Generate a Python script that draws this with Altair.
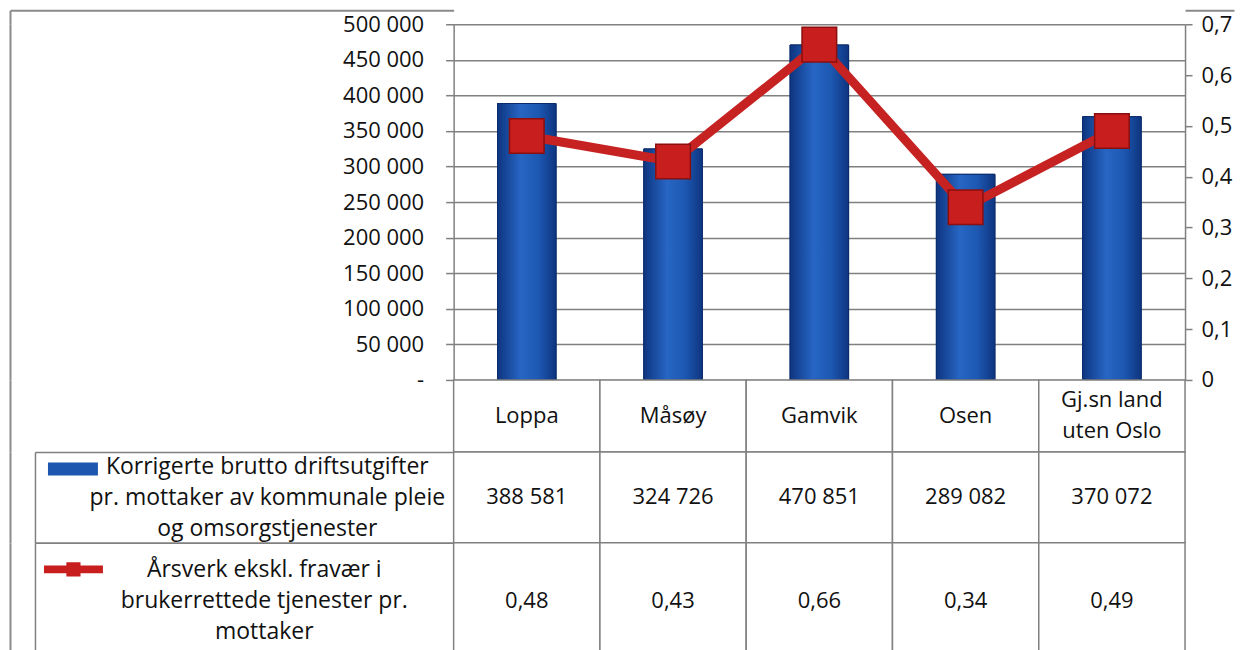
import altair as alt
import pandas as pd

# ---- data -------------------------------------------------------------
categories = ["Loppa", "Måsøy", "Gamvik", "Osen", "Gj.sn land\nuten Oslo"]
driftsutgifter = [388581, 324726, 470851, 289082, 370072]
arsverk = [0.48, 0.43, 0.66, 0.34, 0.49]

series_bar_lines = ["Korrigerte brutto driftsutgifter",
                    "pr. mottaker av kommunale pleie",
                    "og omsorgstjenester"]
series_line_lines = ["Årsverk ekskl. fravær i",
                     "brukerrettede tjenester pr.",
                     "mottaker"]
left_ticks = [0, 50000, 100000, 150000, 200000, 250000,
              300000, 350000, 400000, 450000, 500000]
right_ticks = [0, 0.1, 0.2, 0.3, 0.4, 0.5, 0.6, 0.7]

series_bar = " ".join(series_bar_lines)
series_line = " ".join(series_line_lines)

df = pd.DataFrame({"kommune": categories, "utgift": driftsutgifter, "arsverk": arsverk})
df["s_bar"] = series_bar
df["s_line"] = series_line

# ---- style --------------------------------------------------------------
FONT = "Open Sans"
FS = 22
FS_LEG = 23
LH = 31
TXT = "#111111"
GRID = "#808080"
FRAME = "#8a8a8a"
W = 732
LEFT_CELL = 419      # width of the legend column of the data table
FRAME_OFF = 444      # distance from plot area to the outer chart frame
RIGHT_FRAME = 49

unit = alt.Scale(domain=[0, 1], nice=False)


def frame_axis(orient="left", offset=FRAME_OFF):
    return alt.Axis(orient=orient, offset=offset, domain=True, domainColor=FRAME,
                    domainWidth=2, ticks=False, labels=False, grid=False, title=None)


def frame_layer(x_enc):
    return alt.Chart(df).mark_point(opacity=0, size=1).encode(
        x=x_enc, y=alt.YDatum(1, scale=unit, axis=frame_axis()))


# ---- top chart: bars + line ------------------------------------------
x_top = alt.X("kommune:N", sort=categories,
              scale=alt.Scale(domain=categories, paddingInner=0.6, paddingOuter=0.3),
              axis=None)
y_left = alt.Y("utgift:Q",
               scale=alt.Scale(domain=[0, 500000], nice=False),
               axis=alt.Axis(orient="left", values=left_ticks, title=None,
                             labelExpr="datum.value == 0 ? '-' : format(datum.value / 1000, 'd') + ' 000'",
                             grid=True, gridColor=GRID, gridWidth=1.5,
                             domainColor=GRID, domainWidth=1.5,
                             tickColor=GRID, tickWidth=1.5, tickSize=8,
                             labelPadding=22, labelFont=FONT, labelFontSize=FS,
                             labelColor=TXT))
y_right = alt.Y("arsverk:Q",
                scale=alt.Scale(domain=[0, 0.7], nice=False),
                axis=alt.Axis(orient="right", values=right_ticks, title=None,
                              labelExpr="replace(format(datum.value, '.1~f'), '.', ',')",
                              grid=False, domainColor=GRID, domainWidth=1.5,
                              tickColor=GRID, tickWidth=1.5, tickSize=7,
                              labelPadding=9, labelFont=FONT, labelFontSize=FS,
                              labelColor=TXT))

grad = alt.Gradient(gradient="linear", x1=0, x2=1, y1=0, y2=0,
                    stops=[alt.GradientStop(color="#0e3580", offset=0),
                           alt.GradientStop(color="#2766c4", offset=0.4),
                           alt.GradientStop(color="#1d58b2", offset=0.7),
                           alt.GradientStop(color="#0e3580", offset=1)])

bars_base = alt.Chart(df).mark_bar(stroke="#0b2c6c", strokeWidth=1).encode(
    x=x_top, y=y_left,
    fill=alt.Fill("s_bar:N", scale=alt.Scale(range=["#1d56ae"]),
                  legend=alt.Legend(orient="none", legendX=-406, legendY=420,
                                    title=None, labelExpr="''", padding=0,
                                    symbolType="M-1,-0.26H1V0.26H-1Z",
                                    symbolSize=2500, symbolStrokeWidth=0)))
bars_grad = alt.Chart(df).mark_bar(fill=grad, stroke="#0b2c6c", strokeWidth=1).encode(
    x=x_top, y=y_left)

line = alt.Chart(df).mark_line(color="#c62222", strokeWidth=9).encode(x=x_top, y=y_right)
squares = alt.Chart(df).mark_square(size=1200, stroke="#8a0f0f", strokeWidth=1.5,
                                    opacity=1).encode(
    x=x_top, y=y_right,
    fill=alt.Fill("s_line:N", scale=alt.Scale(range=["#c81e1e"]),
                  legend=alt.Legend(orient="none", legendX=-410, legendY=516,
                                    title=None, labelExpr="''", padding=0,
                                    symbolType="M-1,-0.13H-0.24V-0.24H0.24V-0.13H1V0.13H0.24V0.24H-0.24V0.13H-1Z",
                                    symbolSize=3481, symbolStrokeWidth=0)))

top = alt.layer(alt.layer(bars_base, bars_grad), alt.layer(line, squares),
                frame_layer(x_top)).resolve_scale(
    y="independent", fill="independent").properties(width=W, height=356)

# ---- strip above the plot carrying the top edge of the chart frame -----
x_tab = alt.X("kommune:N", sort=categories,
              scale=alt.Scale(domain=categories, paddingInner=0, paddingOuter=0),
              axis=None)
x_frame_top = alt.X("kommune:N", sort=categories,
                    scale=alt.Scale(domain=categories, paddingInner=0, paddingOuter=0),
                    axis=alt.Axis(orient="top", domain=True, domainColor=FRAME,
                                  domainWidth=2, ticks=False, labels=False,
                                  grid=False, title=None))
tick_axis = dict(domain=False, labels=False, grid=False, title=None, values=[1],
                 ticks=True, tickColor=FRAME, tickWidth=2)
strip = alt.layer(
    alt.Chart(df).mark_point(opacity=0, size=1).encode(
        x=x_frame_top, y=alt.YDatum(1, scale=unit, axis=frame_axis())),
    alt.Chart(df).mark_point(opacity=0, size=1).encode(
        x=x_tab, y=alt.YDatum(1, scale=unit,
                              axis=alt.Axis(orient="left", tickSize=FRAME_OFF, **tick_axis))),
    alt.Chart(df).mark_point(opacity=0, size=1).encode(
        x=x_tab, y=alt.YDatum(1, scale=unit,
                              axis=alt.Axis(orient="right", tickSize=RIGHT_FRAME, **tick_axis))),
).resolve_axis(y="independent").properties(width=W, height=14)

# ---- data table ------------------------------------------------------
header_cells = alt.Chart(df).mark_rect(fill="white", stroke=GRID, strokeWidth=1.5).encode(x=x_tab)
header_single = alt.Chart(df).transform_filter("indexof(datum.kommune, '\\n') < 0").mark_text(
    font=FONT, fontSize=FS, color=TXT).encode(x=x_tab, text="kommune:N")
header_multi = alt.Chart(df).transform_filter("indexof(datum.kommune, '\\n') >= 0").mark_text(
    font=FONT, fontSize=FS, lineBreak="\n", lineHeight=LH, dy=-LH / 2,
    color=TXT).encode(x=x_tab, text="kommune:N")
header = alt.layer(header_cells, header_single, header_multi,
                   frame_layer(x_tab)).properties(width=W, height=72)


def row_chart(label_lines, text_expr, h, pad):
    rowdf = df.assign(row="|".join(label_lines))
    yscale = alt.Scale(paddingInner=0, paddingOuter=0)
    y_cells = alt.Y("row:N", scale=yscale,
                    axis=alt.Axis(title=None, orient="left", domain=False, grid=False,
                                  ticks=True, tickBand="extent", tickSize=LEFT_CELL,
                                  tickColor=GRID, tickWidth=1.5,
                                  labelExpr="split(datum.label, '|')",
                                  labelAlign="center", labelBaseline="middle",
                                  labelOffset=-(len(label_lines) - 1) * LH / 2,
                                  labelPadding=pad, labelLimit=1000,
                                  labelFont=FONT, labelFontSize=FS_LEG, labelColor=TXT,
                                  labelLineHeight=LH))
    y_border = alt.Y("row:N", scale=yscale,
                     axis=alt.Axis(title=None, orient="left", offset=LEFT_CELL, domain=True,
                                   domainColor=GRID, domainWidth=1.5, ticks=False,
                                   labels=False, grid=False))
    y_frame = alt.Y("row:N", scale=yscale, axis=frame_axis())
    cells = alt.Chart(rowdf).mark_rect(fill="white", stroke=GRID, strokeWidth=1.5).encode(
        x=x_tab, y=y_cells)
    vals = alt.Chart(rowdf).transform_calculate(txt=text_expr).mark_text(
        font=FONT, fontSize=FS, color=TXT).encode(x=x_tab, y=y_border, text="txt:N")
    frame = alt.Chart(rowdf).mark_point(opacity=0, size=1).encode(x=x_tab, y=y_frame)
    return alt.layer(cells, vals, frame).resolve_axis(y="independent").properties(
        width=W, height=h)


row1 = row_chart(series_bar_lines,
                 "format(floor(datum.utgift / 1000), 'd') + ' ' + format(datum.utgift % 1000, '03d')",
                 91, -232)
row2 = row_chart(series_line_lines,
                 "replace(format(datum.arsverk, '.2f'), '.', ',')",
                 116, -229)

chart = alt.vconcat(strip, top, header, row1, row2, spacing=0, bounds="flush").properties(
    padding={"left": 1, "top": 1, "right": 0, "bottom": 0}
).configure_view(stroke=None)

chart.save("out.html", embed_options={"renderer": "svg", "actions": False})
